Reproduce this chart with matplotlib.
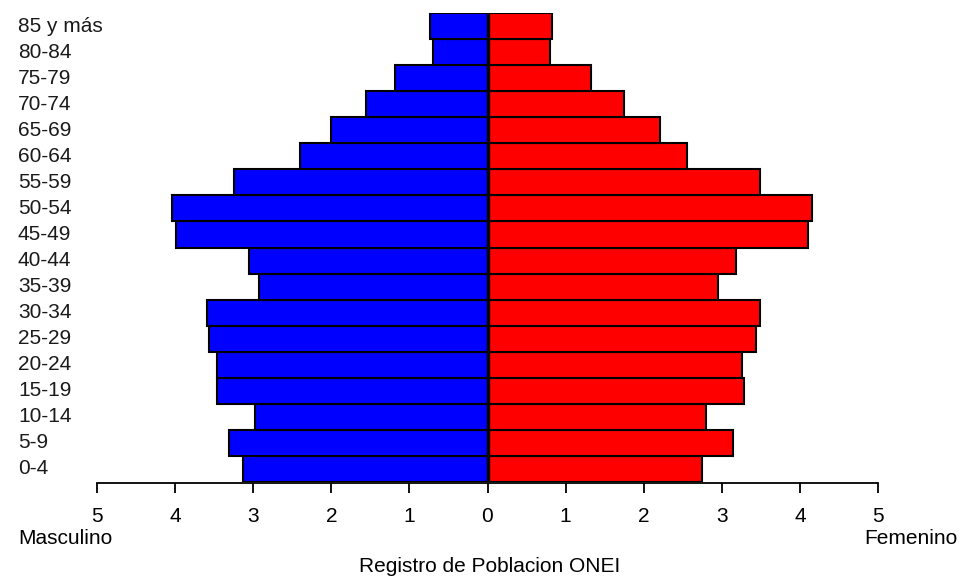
import matplotlib
matplotlib.use("Agg")
import matplotlib.pyplot as plt
import matplotlib.transforms as mtransforms

# grupos de edad (de abajo hacia arriba)
grupos = ['0-4', '5-9', '10-14', '15-19', '20-24', '25-29', '30-34', '35-39',
          '40-44', '45-49', '50-54', '55-59', '60-64', '65-69', '70-74',
          '75-79', '80-84', '85 y más']

# porcentajes por sexo
masculino = [3.13, 3.31, 2.98, 3.46, 3.46, 3.57, 3.59, 2.93,
             3.06, 3.99, 4.04, 3.24, 2.40, 2.01, 1.55, 1.18, 0.70, 0.73]
femenino = [2.75, 3.14, 2.80, 3.29, 3.26, 3.44, 3.49, 2.95,
            3.18, 4.11, 4.16, 3.49, 2.55, 2.21, 1.75, 1.32, 0.80, 0.83]

ticks_x = [-5, -4, -3, -2, -1, 0, 1, 2, 3, 4, 5]

plt.rcParams['font.family'] = ['Liberation Sans', 'DejaVu Sans']

fig = plt.figure(figsize=(9.59, 5.78), dpi=100)
ax = fig.add_axes([97 / 959, 96 / 578, 781 / 959, 469 / 578])

y = list(range(len(grupos)))
ax.barh(y, [-v for v in masculino], height=1.0, color='#0000FF',
        edgecolor='black', linewidth=1.5)
ax.barh(y, femenino, height=1.0, color='#FF0000',
        edgecolor='black', linewidth=1.5)
ax.axvline(0, color='black', linewidth=2.4)

ax.set_xlim(-5, 5)
ax.set_ylim(-0.5, len(grupos) - 0.5)

for s in ['top', 'right', 'left']:
    ax.spines[s].set_visible(False)
ax.spines['bottom'].set_position(('outward', 1))
ax.spines['bottom'].set_linewidth(1.3)

ax.set_xticks(ticks_x)
ax.set_xticklabels([str(abs(t)) for t in ticks_x], fontsize=15)
ax.tick_params(axis='x', length=7, width=1.3, pad=10, colors='black')
ax.set_yticks([])

# etiquetas de grupos alineadas a la izquierda de la figura
trans = mtransforms.blended_transform_factory(fig.transFigure, ax.transData)
for yi, g in zip(y, grupos):
    ax.text(18 / 959, yi, g, transform=trans, ha='left', va='center',
            fontsize=15, color='#1a1a1a')

fig.text(18 / 959, 1 - 539 / 578, 'Masculino', ha='left', va='center', fontsize=15)
fig.text(957 / 959, 1 - 539 / 578, 'Femenino', ha='right', va='center', fontsize=15)
fig.text(490 / 959, 1 - 567 / 578, 'Registro de Poblacion ONEI',
         ha='center', va='center', fontsize=15)

fig.savefig('out.png', dpi=100)
